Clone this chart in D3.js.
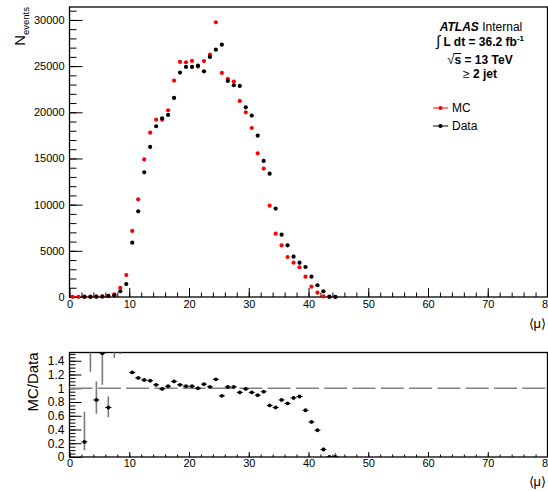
<!DOCTYPE html>
<html>
<head>
<meta charset="utf-8">
<script src="https://cdn.jsdelivr.net/npm/d3@7"></script>
<style>
body { margin: 0; background: #fff; }
svg text { font-family: "Liberation Sans", Arial, Helvetica, sans-serif; }
</style>
</head>
<body>
<div id="chart"></div>
<script>
/* Data */
var binCenters = [0.5,1.5,2.5,3.5,4.5,5.5,6.5,7.5,8.5,9.5,10.5,11.5,12.5,13.5,14.5,15.5,16.5,17.5,18.5,19.5,
  20.5,21.5,22.5,23.5,24.5,25.5,26.5,27.5,28.5,29.5,30.5,31.5,32.5,33.5,34.5,35.5,36.5,37.5,38.5,39.5,
  40.5,41.5,42.5,43.5,44.5];

var mcEvents = [20,15,10,30,40,70,90,290,1000,2380, 7150,10580,14900,17790,19200,19200,20220,23430,25450,25420,
  25560,24950,25550,26240,29750,24260,23610,23320,21230,20000, 18300,15560,13900,9890,6860,5600,4330,3720,3220,2200,
  1120,470,60,0,0];

var dataEvents = [null,null,45,20,50,45,120,180,620,1400, 5880,9280,13500,16250,18490,19350,19710,21550,24300,24910,
  24910,25050,24440,25990,26780,27320,23390,22930,22850,20540, 19640,17470,14730,13350,9570,6750,5600,4370,3720,3250,
  2200,1270,620,40,20];

var ratio = [null,null,0.22,1.6,0.83,1.51,0.72,1.62,1.6,1.7, 1.23,1.15,1.12,1.11,1.05,0.99,1.03,1.10,1.05,1.03,
  1.03,1.00,1.06,1.02,1.13,0.89,1.02,1.02,0.94,0.99, 0.94,0.90,0.95,0.75,0.72,0.83,0.78,0.86,0.88,0.68,
  0.51,0.39,0.11,0,0];
var ratioLo = [null,null,0.10,1.24,0.63,1.05,0.58,1.44,1.5,1.62, 1.21,1.14,1.11,1.10,1.04,0.98,1.02,1.09,1.04,1.02,
  1.02,0.99,1.05,1.01,1.12,0.88,1.01,1.01,0.93,0.98, 0.93,0.89,0.94,0.74,0.71,0.81,0.76,0.84,0.86,0.66,
  0.49,0.36,0.08,0,0];
var ratioHi = [null,null,0.66,2.0,1.10,2.0,0.88,1.8,1.7,1.78, 1.25,1.16,1.13,1.12,1.06,1.00,1.04,1.11,1.06,1.04,
  1.04,1.01,1.07,1.03,1.14,0.90,1.03,1.03,0.95,1.00, 0.95,0.91,0.96,0.76,0.73,0.85,0.80,0.88,0.90,0.70,
  0.53,0.42,0.14,0.02,0.06];

var xTicks = [0,10,20,30,40,50,60,70,80];
var yTicksTop = [0,5000,10000,15000,20000,25000,30000];
var yTicksRatio = [0,0.2,0.4,0.6,0.8,1,1.2,1.4];
var legendItems = [['MC','#ff0000'],['Data','#000000']];

var W = 548, H = 491;
var svg = d3.select('#chart').append('svg').attr('width', W).attr('height', H);

var x = d3.scaleLinear().domain([0, 80]).range([69.5, 547.5]);
var yTop = d3.scaleLinear().domain([0, 31400]).range([297, 7]);
var yRat = d3.scaleLinear().domain([0, 1.52]).range([457, 352.5]);

var styleAxis = function(g, size) {
  g.select('.domain').remove();
  g.selectAll('line').attr('stroke', '#000').attr('stroke-width', 1);
  g.selectAll('text').attr('font-size', size).attr('fill', '#000')
    .style('font-family', '"Liberation Sans", Arial, sans-serif');
}

var ratioFmt = function(d) { return d === 0 ? '0' : (d === 1 ? '1' : d3.format('.1f')(d)); };

/* ---- top pad ---- */
var topPad = svg.append('g');

topPad.append('g').attr('transform', 'translate(0,297)')
  .call(d3.axisBottom(x).tickValues(d3.range(0, 81, 2)).tickSizeInner(-4.5).tickSizeOuter(0).tickFormat(''))
  .call(styleAxis, 11);
topPad.append('g').attr('transform', 'translate(0,297)')
  .call(d3.axisBottom(x).tickValues(xTicks).tickSizeInner(-9).tickSizeOuter(0).tickPadding(3))
  .call(styleAxis, 11);
topPad.append('g').attr('transform', 'translate(69.5,0)')
  .call(d3.axisLeft(yTop).tickValues(d3.range(0, 31001, 1000)).tickSizeInner(-7).tickSizeOuter(0).tickFormat(''))
  .call(styleAxis, 11);
topPad.append('g').attr('transform', 'translate(69.5,0)')
  .call(d3.axisLeft(yTop).tickValues(yTicksTop).tickSizeInner(-13).tickSizeOuter(0).tickPadding(5).tickFormat(d3.format('d')))
  .call(styleAxis, 11);

topPad.append('rect').attr('x', 69.5).attr('y', 7).attr('width', 478).attr('height', 290)
  .attr('fill', 'none').attr('stroke', '#000').attr('stroke-width', 1.3);

var pts = binCenters.map(function(c, i) { return {c: c, mc: mcEvents[i], data: dataEvents[i]}; });

topPad.selectAll('circle.mc').data(pts.filter(function(d) { return d.mc !== null; }))
  .enter().append('circle').attr('class', 'mc')
  .attr('cx', function(d) { return x(d.c); })
  .attr('cy', function(d) { return yTop(d.mc); })
  .attr('r', 2.1).attr('fill', '#ff0000');

topPad.selectAll('circle.data').data(pts.filter(function(d) { return d.data !== null; }))
  .enter().append('circle').attr('class', 'data')
  .attr('cx', function(d) { return x(d.c); })
  .attr('cy', function(d) { return yTop(d.data); })
  .attr('r', 2.1).attr('fill', '#000');

// axis titles
var yt = topPad.append('text').attr('transform', 'translate(25,7) rotate(-90)')
  .attr('text-anchor', 'end').attr('font-size', 15);
yt.append('tspan').text('N');
yt.append('tspan').attr('font-size', 9.5).attr('dy', 4).text('events');

topPad.append('text').attr('x', 546).attr('y', 328).attr('text-anchor', 'end')
  .attr('font-size', 13).text('\u27E8\u03BC\u27E9');

// label box
var l1 = topPad.append('text').attr('x', 481).attr('y', 30.5).attr('text-anchor', 'middle').attr('font-size', 12);
l1.append('tspan').attr('font-weight', 'bold').attr('font-style', 'italic').text('ATLAS');
l1.append('tspan').text(' Internal');

var l2 = topPad.append('text').attr('x', 480).attr('y', 45.5).attr('text-anchor', 'middle').attr('font-size', 12);
l2.append('tspan').attr('font-size', 15).text('\u222B');
l2.append('tspan').attr('font-weight', 'bold').text(' L dt = 36.2 fb');
l2.append('tspan').attr('font-weight', 'bold').attr('font-size', 8).attr('dy', -5).text('-1');

var l3 = topPad.append('text').attr('x', 480).attr('y', 63.5).attr('text-anchor', 'middle').attr('font-size', 12);
l3.append('tspan').attr('font-size', 13).text('\u221A');
l3.append('tspan').attr('font-weight', 'bold').text('s = 13 TeV');
var sBox = l3.node().getExtentOfChar(1);
topPad.append('line').attr('x1', sBox.x - 1).attr('x2', sBox.x + sBox.width)
  .attr('y1', 53.5).attr('y2', 53.5).attr('stroke', '#000').attr('stroke-width', 1);

var l4 = topPad.append('text').attr('x', 480).attr('y', 78).attr('text-anchor', 'middle').attr('font-size', 12);
l4.append('tspan').text('\u2265 ');
l4.append('tspan').attr('font-weight', 'bold').text('2 jet');

// legend
var leg = topPad.selectAll('g.leg').data(legendItems).enter().append('g').attr('class', 'leg')
  .attr('transform', function(d, i) { return 'translate(0,' + (108 + i * 18) + ')'; });
leg.append('line').attr('x1', 433).attr('x2', 448).attr('y1', 0).attr('y2', 0)
  .attr('stroke', function(d) { return d[1]; }).attr('stroke-width', 1);
leg.append('circle').attr('cx', 440.5).attr('cy', 0).attr('r', 2.1).attr('fill', function(d) { return d[1]; });
leg.append('text').attr('x', 452).attr('y', 4.3).attr('font-size', 12).text(function(d) { return d[0]; });

/* ---- ratio pad ---- */
var bot = svg.append('g');

svg.append('clipPath').attr('id', 'ratio-clip').append('rect')
  .attr('x', 69.5).attr('y', 352.5).attr('width', 478).attr('height', 104.5);

bot.append('g').attr('transform', 'translate(0,457)')
  .call(d3.axisBottom(x).tickValues(d3.range(0, 81, 2)).tickSizeInner(-2.5).tickSizeOuter(0).tickFormat(''))
  .call(styleAxis, 11);
bot.append('g').attr('transform', 'translate(0,457)')
  .call(d3.axisBottom(x).tickValues(xTicks).tickSizeInner(-5).tickSizeOuter(0).tickPadding(2))
  .call(styleAxis, 11);
bot.append('g').attr('transform', 'translate(69.5,0)')
  .call(d3.axisLeft(yRat).tickValues(d3.range(0, 1.51, 0.05)).tickSizeInner(-6).tickSizeOuter(0).tickFormat(''))
  .call(styleAxis, 11);
bot.append('g').attr('transform', 'translate(69.5,0)')
  .call(d3.axisLeft(yRat).tickValues(yTicksRatio).tickSizeInner(-12).tickSizeOuter(0).tickPadding(5).tickFormat(ratioFmt))
  .call(styleAxis, 12);

bot.append('rect').attr('x', 69.5).attr('y', 352.5).attr('width', 478).attr('height', 104.5)
  .attr('fill', 'none').attr('stroke', '#000').attr('stroke-width', 1.3);

bot.append('line').attr('x1', x(0)).attr('x2', x(80)).attr('y1', yRat(1)).attr('y2', yRat(1))
  .attr('stroke', '#808080').attr('stroke-width', 1.5).attr('stroke-dasharray', '23,5.3');

var rpts = binCenters.map(function(c, i) {
  return {c: c, r: ratio[i], lo: ratioLo[i], hi: ratioHi[i]};
}).filter(function(d) { return d.r !== null; });

var rg = bot.append('g').attr('clip-path', 'url(#ratio-clip)');
rg.selectAll('line.err').data(rpts).enter().append('line').attr('class', 'err')
  .attr('x1', function(d) { return x(d.c); }).attr('x2', function(d) { return x(d.c); })
  .attr('y1', function(d) { return yRat(d.lo); }).attr('y2', function(d) { return yRat(d.hi); })
  .attr('stroke', '#7a7a7a').attr('stroke-width', 1.6);
rg.selectAll('line.xerr').data(rpts).enter().append('line').attr('class', 'xerr')
  .attr('x1', function(d) { return x(d.c) - 3; }).attr('x2', function(d) { return x(d.c) + 3; })
  .attr('y1', function(d) { return yRat(d.r); }).attr('y2', function(d) { return yRat(d.r); })
  .attr('stroke', '#000').attr('stroke-width', 1);
rg.selectAll('circle').data(rpts).enter().append('circle')
  .attr('cx', function(d) { return x(d.c); })
  .attr('cy', function(d) { return yRat(d.r); })
  .attr('r', 1.9).attr('fill', '#000');

var rt = bot.append('text').attr('transform', 'translate(38,382) rotate(-90)')
  .attr('text-anchor', 'middle').attr('font-size', 15).text('MC/Data');

bot.append('text').attr('x', 546).attr('y', 486).attr('text-anchor', 'end')
  .attr('font-size', 13).text('\u27E8\u03BC\u27E9');
</script>
</body>
</html>
